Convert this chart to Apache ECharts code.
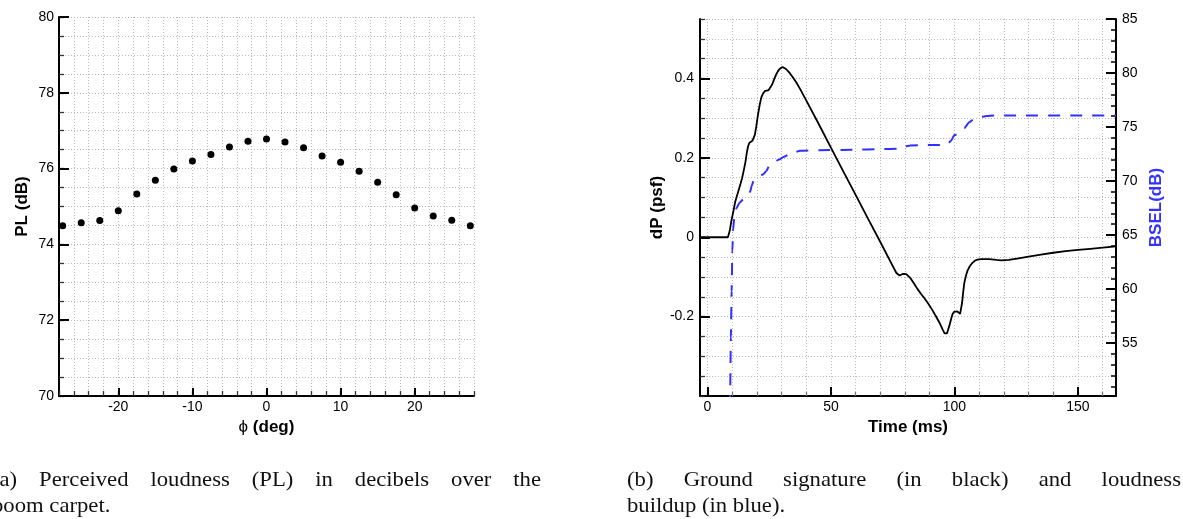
<!DOCTYPE html>
<html><head><meta charset="utf-8">
<script src="https://cdn.jsdelivr.net/npm/echarts@6/dist/echarts.min.js"></script>
<style>html,body{margin:0;padding:0;background:#fff;overflow:hidden}#c{width:1183px;height:519px}</style>
</head><body><div id="c"></div>
<script>
// ---------- data ----------
const phiDeg = [-27.5,-25,-22.5,-20,-17.5,-15,-12.5,-10,-7.5,-5,-2.5,0,2.5,5,7.5,10,12.5,15,17.5,20,22.5,25,27.5];
const plValues = [74.49,74.57,74.63,74.89,75.33,75.69,75.99,76.20,76.37,76.57,76.72,76.78,76.70,76.55,76.33,76.17,75.93,75.64,75.31,74.96,74.75,74.64,74.49];

const timeBlack = [-3,8.3,8.7,9.1,9.6,10.0,10.6,11.2,12.0,12.7,13.4,14.0,14.7,15.4,16.0,16.5,17.0,17.6,18.2,18.7,19.2,19.8,20.5,21.2,21.8,22.5,23.2,24.0,24.8,25.5,26.2,27.0,27.8,28.5,29.2,29.8,30.4,31.0,31.8,33.0,34.5,36.0,37.5,40.0,45.0,50.0,55.0,60.0,65.0,70.0,74.0,76.5,77.2,77.8,78.5,79.2,79.8,80.5,81.3,82.2,83.5,85.0,86.5,88.0,89.5,91.0,92.5,94.0,95.2,96.0,96.5,97.0,97.5,98.0,98.6,99.2,99.8,100.5,101.2,101.8,102.3,102.7,103.1,103.5,104.0,104.6,105.3,106.2,107.2,108.3,109.5,111.0,114.0,117.0,119.0,122.0,126.0,130.0,135.0,140.0,145.0,150.0,155.0,160.0,165.4];
const dpValues = [0,0,0.004,0.018,0.038,0.05,0.068,0.088,0.105,0.12,0.135,0.148,0.168,0.19,0.215,0.23,0.238,0.242,0.243,0.246,0.258,0.28,0.31,0.335,0.352,0.362,0.368,0.37,0.371,0.375,0.385,0.398,0.41,0.418,0.424,0.428,0.429,0.428,0.424,0.416,0.404,0.39,0.374,0.345,0.286,0.226,0.166,0.107,0.047,-0.012,-0.060,-0.09,-0.095,-0.0965,-0.095,-0.092,-0.0915,-0.093,-0.097,-0.103,-0.115,-0.13,-0.143,-0.155,-0.168,-0.183,-0.199,-0.216,-0.232,-0.242,-0.245,-0.242,-0.232,-0.222,-0.207,-0.194,-0.188,-0.186,-0.187,-0.19,-0.193,-0.188,-0.165,-0.14,-0.115,-0.098,-0.084,-0.073,-0.065,-0.059,-0.056,-0.055,-0.055,-0.057,-0.058,-0.057,-0.053,-0.049,-0.044,-0.039,-0.035,-0.032,-0.029,-0.026,-0.023];

const timeBlue = [8.9,9.2,9.5,9.8,10.1,10.4,10.9,11.8,13.0,14.5,16.0,17.3,18.0,18.8,20.0,22.5,23.8,25.0,27.0,29.0,31.0,33.0,35.0,37.5,45.0,60.0,70.0,77.5,80.0,82.0,97.0,98.5,100.0,102.5,104.0,106.0,108.0,110.0,113.0,116.0,165.4];
const bselValues = [45,50.5,55.5,59.8,63.5,65.5,66.6,67.5,68.0,68.3,68.6,69.0,69.6,70.1,70.35,70.6,70.9,71.4,71.75,72.0,72.25,72.45,72.65,72.8,72.85,72.9,72.95,73.0,73.2,73.3,73.35,73.7,74.25,74.5,74.9,75.45,75.75,75.9,76.02,76.06,76.06];

const plTicks = [70,72,74,76,78,80];
const phiTicks = [-20,-10,0,10,20];
const timeTicks = [0,50,100,150];
const timeMinorTicks = [0,10,20,30,40,50,60,70,80,90,100,110,120,130,140,150,160];
const dpTicks = [-0.2,0,0.2,0.4];
const bselTicks = [55,60,65,70,75,80,85];
const bselMinorTicks = [51,52,53,54,55,56,57,58,59,60,61,62,63,64,65,66,67,68,69,70,71,72,73,74,75,76,77,78,79,80,81,82,83,84,85];

const captionA1 = ['(a)','Perceived','loudness','(PL)','in','decibels','over','the'];
const captionA2 = 'boom carpet.';
const captionB1 = ['(b)','Ground','signature','(in','black)','and','loudness'];
const captionB2 = 'buildup (in blue).';

// ---------- styles ----------
const SANS = '"Liberation Sans", Arial, Helvetica, sans-serif';
const SERIF = '"Liberation Serif", "Times New Roman", serif';
const gridLine = {show:true, lineStyle:{color:'#b8b8b8', width:1, type:[1,2]}};
const axisLineS = {show:true, onZero:false, lineStyle:{color:'#000', width:2}};
const minorTick = {show:true, inside:true, length:5, lineStyle:{color:'#333', width:1.3}};
const majorTick = (vals, len) => ({show:true, inside:true, length:len, customValues:vals, lineStyle:{color:'#000', width:2}});
const lbl = (vals, margin) => ({show:true, customValues:vals, fontSize:14, fontFamily:SANS, color:'#000', margin});
const nameStyle = {fontSize:17, fontWeight:'bold', fontFamily:SANS, color:'#000'};
const overlay = (base) => Object.assign({axisLine:{show:false, onZero:false}, axisLabel:{show:false}, splitLine:{show:false}}, base);

// ---------- captions ----------
const mctx = document.createElement('canvas').getContext('2d');
const CAP_FS = 21, CAP_SX = 1.08;
function capText(s, x, y) {
  return {type:'text', silent:true, x:x, y:y, scaleX:CAP_SX, style:{text:s, fontSize:CAP_FS, fontFamily:SERIF, fill:'#111', align:'left', verticalAlign:'middle'}};
}
function justify(words, x0, x1, y) {
  mctx.font = CAP_FS + 'px ' + SERIF;
  const w = words.map(s => mctx.measureText(s).width * CAP_SX);
  const gap = (x1 - x0 - w.reduce((a,b)=>a+b,0)) / (words.length - 1);
  let x = x0; const out = [];
  words.forEach((s,i) => { out.push(capText(s, x, y)); x += w[i] + gap; });
  return out;
}
const graphics = [].concat(
  justify(captionA1, -8, 541, 480),
  [capText(captionA2, -8, 506)],
  justify(captionB1, 627, 1181, 480),
  [capText(captionB2, 627, 506)]
);

// ---------- chart ----------
const chart = echarts.init(document.getElementById('c'), null, {renderer:'canvas'});
chart.setOption({
  animation:false,
  backgroundColor:'#fff',
  grid:[
    {left:59, top:17, width:415, height:379},
    {left:700, top:19, width:416, height:377}
  ],
  xAxis:[
    {type:'value', gridIndex:0, min:-28, max:28, interval:2, position:'bottom',
     axisLine:axisLineS, axisTick:minorTick, axisLabel:lbl(phiTicks,4), splitLine:gridLine,
     name:'{p|\u03D5} (deg)', nameLocation:'middle', nameGap:18,
     nameTextStyle:Object.assign({}, nameStyle, {rich:{p:{fontSize:17, fontWeight:'normal', fontFamily:SANS, color:'#000'}}})},
    overlay({type:'value', gridIndex:0, min:-28, max:28, position:'bottom', axisTick:majorTick(phiTicks,8)}),
    {type:'value', gridIndex:1, min:-3, max:165.4, position:'bottom',
     axisLine:axisLineS, axisTick:Object.assign({}, minorTick, {customValues:timeMinorTicks, length:4, lineStyle:{color:'#777', width:1.3}}),
     axisLabel:lbl(timeTicks,4), splitLine:gridLine,
     name:'Time (ms)', nameLocation:'middle', nameGap:18, nameTextStyle:nameStyle},
    overlay({type:'value', gridIndex:1, min:-3, max:165.4, position:'bottom', axisTick:majorTick(timeTicks,9)})
  ],
  yAxis:[
    {type:'value', gridIndex:0, min:70, max:80, interval:0.5, position:'left',
     axisLine:axisLineS, axisTick:minorTick, axisLabel:lbl(plTicks,5), splitLine:gridLine,
     name:'PL (dB)', nameLocation:'middle', nameGap:28, nameTextStyle:nameStyle},
    overlay({type:'value', gridIndex:0, min:70, max:80, position:'left', axisTick:majorTick(plTicks,10)}),
    {type:'value', gridIndex:1, min:-0.4, max:0.55, interval:0.05, position:'left',
     axisLine:axisLineS, axisTick:minorTick, axisLabel:lbl(dpTicks,6), splitLine:gridLine,
     name:'dP (psf)', nameLocation:'middle', nameGap:28, nameTextStyle:nameStyle},
    overlay({type:'value', gridIndex:1, min:-0.4, max:0.55, position:'left', axisTick:majorTick(dpTicks,10)}),
    {type:'value', gridIndex:1, min:50.1, max:85, position:'right',
     axisLine:axisLineS, axisTick:Object.assign({}, minorTick, {customValues:bselMinorTicks, lineStyle:{color:'#000', width:1.5}}),
     axisLabel:lbl(bselTicks,6), splitLine:{show:false},
     name:'BSEL(dB)', nameLocation:'middle', nameGap:32, nameTextStyle:Object.assign({}, nameStyle, {color:'#3333ff'})},
    overlay({type:'value', gridIndex:1, min:50.1, max:85, position:'right', axisTick:majorTick(bselTicks,10)})
  ],
  series:[
    {type:'scatter', xAxisIndex:0, yAxisIndex:0, symbol:'circle', symbolSize:7,
     itemStyle:{color:'#000', opacity:1}, data:phiDeg.map((x,i)=>[x, plValues[i]])},
    {type:'line', xAxisIndex:2, yAxisIndex:4, showSymbol:false, smooth:0.2, smoothMonotone:'x',
     lineStyle:{color:'#3030ff', width:2, type:[12,10]}, data:timeBlue.map((x,i)=>[x, bselValues[i]])},
    {type:'line', xAxisIndex:2, yAxisIndex:2, showSymbol:false, smooth:false,
     lineStyle:{color:'#000', width:1.8}, data:timeBlack.map((x,i)=>[x, dpValues[i]])}
  ],
  graphic:graphics
});
</script></body></html>
